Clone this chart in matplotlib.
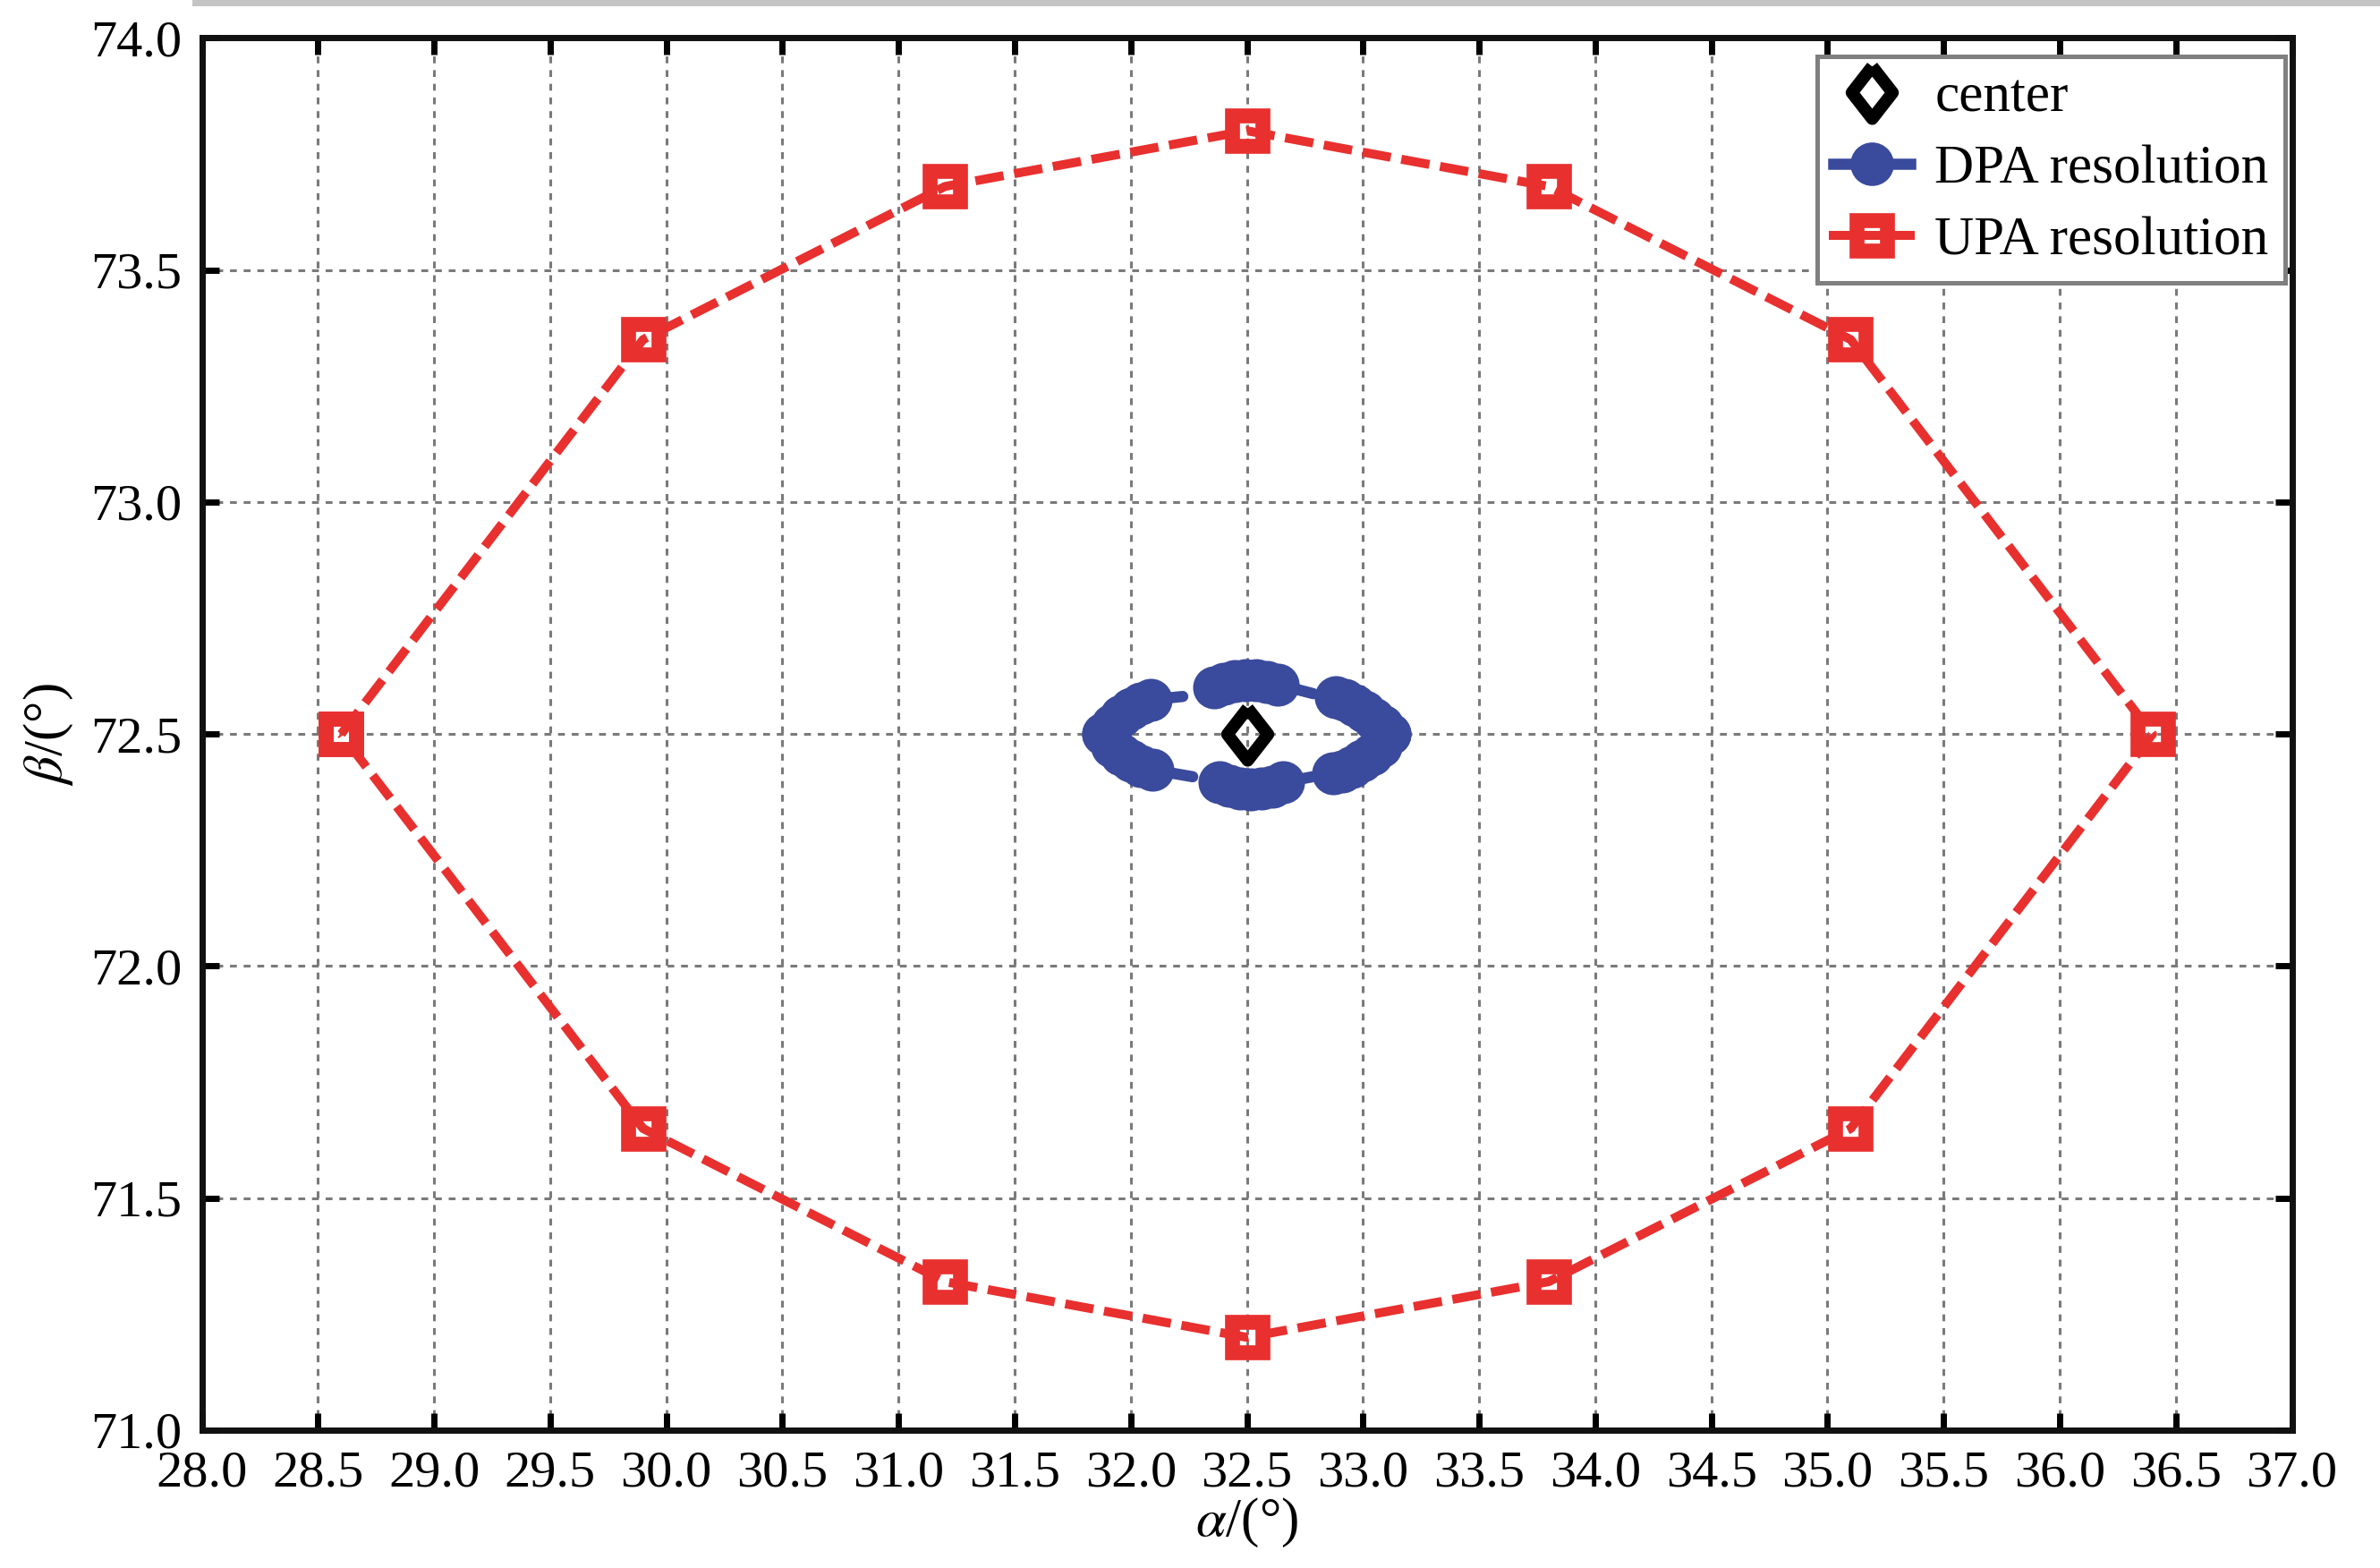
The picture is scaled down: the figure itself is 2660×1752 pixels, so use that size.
import numpy as np
import matplotlib
matplotlib.use("Agg")
import matplotlib.pyplot as plt
from matplotlib.lines import Line2D

plt.rcParams["font.family"] = ["Liberation Serif", "DejaVu Serif"]
plt.rcParams["mathtext.fontset"] = "stix"

# UPA resolution contour (12 points, closed)
upa_alpha = [28.6, 29.9, 31.2, 32.5, 33.8, 35.1, 36.4, 35.1, 33.8, 32.5, 31.2, 29.9, 28.6]
upa_beta = [72.5, 73.35, 73.68, 73.80, 73.68, 73.35, 72.5, 71.65, 71.32, 71.20, 71.32, 71.65, 72.5]

# DPA resolution, drawn as four clusters (last value of some arcs is a bare line tail)
dpa_left_up_alpha = [31.882, 31.920, 31.959, 32.001, 32.043, 32.086, 32.224]
dpa_left_up_beta = [72.500, 72.520, 72.539, 72.554, 72.566, 72.574, 72.581]
dpa_left_low_alpha = [31.882, 31.920, 31.959, 32.001, 32.043, 32.094, 32.267]
dpa_left_low_beta = [72.500, 72.473, 72.456, 72.442, 72.431, 72.423, 72.408]
dpa_top_alpha = [32.359, 32.401, 32.448, 32.494, 32.540, 32.586, 32.632, 32.786]
dpa_top_beta = [72.601, 72.608, 72.614, 72.616, 72.616, 72.612, 72.607, 72.587]
dpa_bot_alpha = [32.382, 32.425, 32.471, 32.517, 32.563, 32.610, 32.656, 32.783]
dpa_bot_beta = [72.396, 72.388, 72.383, 72.381, 72.383, 72.387, 72.396, 72.408]
dpa_right_up_alpha = [32.883, 32.922, 32.964, 33.006, 33.045, 33.083, 33.114]
dpa_right_up_beta = [72.579, 72.574, 72.562, 72.549, 72.533, 72.518, 72.500]
dpa_right_low_alpha = [32.871, 32.910, 32.952, 32.994, 33.037, 33.076, 33.114]
dpa_right_low_beta = [72.416, 72.419, 72.429, 72.442, 72.456, 72.473, 72.500]

center_alpha = [32.5]
center_beta = [72.5]

x_ticks = np.arange(28.0, 37.01, 0.5)
y_ticks = np.arange(71.0, 74.01, 0.5)

blue = "#3A4A9C"
red = "#E8302F"

fig = plt.figure(figsize=(13.3, 8.76), dpi=200)
ax = fig.add_axes([0.0848, 0.0879, 0.8782, 0.8879])

ax.grid(True, color="#7a7a7a", linestyle=(0, (2.5, 2.5)), linewidth=1.1)
ax.set_axisbelow(True)

ax.plot(upa_alpha, upa_beta, color=red, linestyle=(0, (3.2, 1.2)), linewidth=3.6,
        marker="s", markersize=12.5, markerfacecolor="none", markeredgecolor=red,
        markeredgewidth=6.0, zorder=3)

arcs = [
    (dpa_left_up_alpha, dpa_left_up_beta, True),
    (dpa_left_low_alpha, dpa_left_low_beta, True),
    (dpa_top_alpha, dpa_top_beta, True),
    (dpa_bot_alpha, dpa_bot_beta, True),
    (dpa_right_up_alpha, dpa_right_up_beta, False),
    (dpa_right_low_alpha, dpa_right_low_beta, False),
]
for a, b, tail in arcs:
    n = len(a) - 1 if tail else len(a)
    ax.plot(a, b, color=blue, linewidth=4.5, solid_capstyle="round",
            marker="o", markersize=16.5, markeredgewidth=0.8,
            markerfacecolor=blue, markeredgecolor=blue,
            markevery=list(range(n)), zorder=4)

diamond = [(0, 1), (0.78, 0), (0, -1), (-0.78, 0), (0, 1)]
ax.plot(center_alpha, center_beta, linestyle="none", marker=diamond, markersize=21,
        markerfacecolor="none", markeredgecolor="black", markeredgewidth=5.0, zorder=5)

ax.set_xlim(28.0, 37.0)
ax.set_ylim(71.0, 74.0)
ax.set_xticks(x_ticks)
ax.set_yticks(y_ticks)
ax.set_xticklabels([f"{v:.1f}" for v in x_ticks])
ax.set_yticklabels([f"{v:.1f}" for v in y_ticks])
ax.tick_params(direction="in", length=7, width=2.5, labelsize=21, pad=8,
               top=True, right=True)
for s in ax.spines.values():
    s.set_linewidth(2.5)
    s.set_color("#111111")

ax.set_xlabel(r"$\alpha$/(°)", fontsize=22, labelpad=0)
ax.set_ylabel(r"$\beta$/(°)", fontsize=22, labelpad=6)

handles = [
    Line2D([], [], linestyle="none", marker=diamond, markersize=21,
           markerfacecolor="none", markeredgecolor="black", markeredgewidth=5.0),
    Line2D([], [], color=blue, linewidth=4.5, marker="o", markersize=16.5,
           markerfacecolor=blue, markeredgecolor=blue),
    Line2D([], [], color=red, linewidth=3.6, marker="s", markersize=12.5,
           markerfacecolor="none", markeredgecolor=red, markeredgewidth=6.0),
]
leg = ax.legend(handles, ["center", "DPA resolution", "UPA resolution"],
                loc="upper right", bbox_to_anchor=(0.9966, 0.9868), borderaxespad=0,
                fontsize=22, fancybox=False, framealpha=1, edgecolor="#7f7f7f",
                handlelength=1.4, handletextpad=0.45, labelspacing=0.4, borderpad=0.3)
leg.get_frame().set_linewidth(1.8)

fig.add_artist(Line2D([0.082, 1.0], [0.9985, 0.9985], color="#c4c4c4", linewidth=2.5))

plt.savefig("out.png", dpi=200)
